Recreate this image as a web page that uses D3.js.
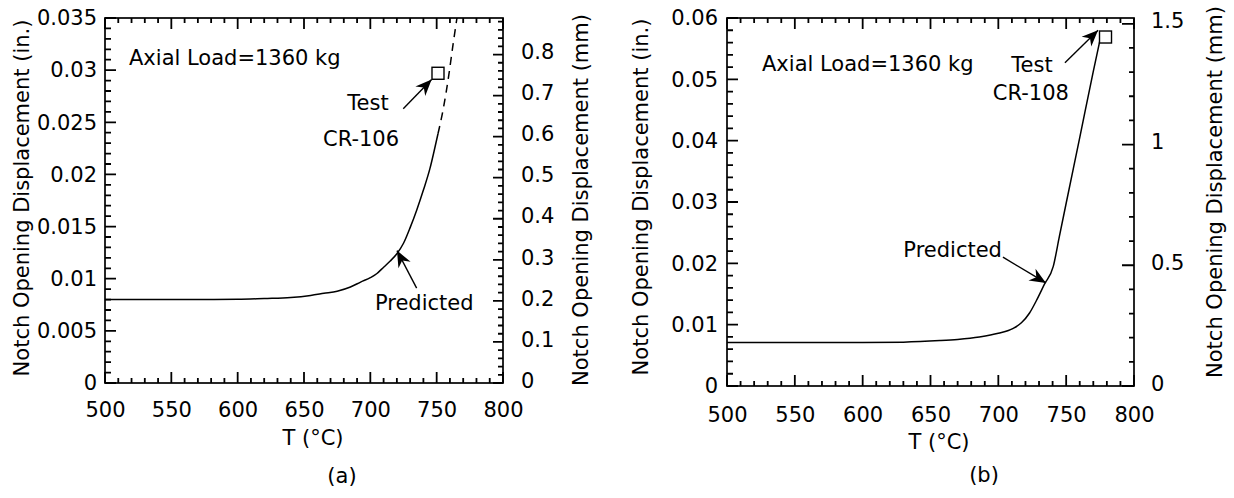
<!DOCTYPE html>
<html><head><meta charset="utf-8">
<script src="https://cdn.jsdelivr.net/npm/d3@7"></script>
<style>
body{margin:0;background:#fff}
text{font-family:"DejaVu Sans",sans-serif;fill:#000}
</style>
</head><body><svg id="c" width="1234" height="498"></svg>
<script>
// ---------- data ----------
const tempTicks = [500,550,600,650,700,750,800];
const inTicksA = [0,0.005,0.01,0.015,0.02,0.025,0.03,0.035];
const inLabelsA = ["0","0.005","0.01","0.015","0.02","0.025","0.03","0.035"];
const mmTicksA = [0,0.1,0.2,0.3,0.4,0.5,0.6,0.7,0.8];
const mmLabelsA = ["0","0.1","0.2","0.3","0.4","0.5","0.6","0.7","0.8"];
const inTicksB = [0,0.01,0.02,0.03,0.04,0.05,0.06];
const inLabelsB = ["0","0.01","0.02","0.03","0.04","0.05","0.06"];
const mmTicksB = [0,0.5,1,1.5];
const mmLabelsB = ["0","0.5","1","1.5"];

const predA_T  = [500,550,600,620,640,655,665,675,685,693,700,705,710,715,720,725,730,735,740,745,748,751];
const predA_in = [0.0080,0.0080,0.00802,0.0081,0.0082,0.0084,0.0086,0.0088,0.0092,0.0097,0.0101,0.0105,0.0111,0.0117,0.0124,0.0134,0.0149,0.0166,0.0185,0.0206,0.0222,0.0239];
const extA_T  = [751,755,759,762.5,765.3];
const extA_in = [0.0239,0.0263,0.0294,0.0326,0.0350];
const testA = {T:751, v:0.0297};

const predB_T  = [500,550,600,630,657,670,686,700,711,717,723,728,734,740.5,745,750,760,770,776];
const predB_in = [0.0071,0.0071,0.0071,0.00715,0.0074,0.0076,0.0080,0.0086,0.0094,0.0103,0.0119,0.0139,0.0166,0.0195,0.0244,0.0298,0.0405,0.0513,0.0575];
const testB = {T:779, v:0.0569};

const IN2MM = 25.4;

// ---------- drawing ----------
const svg = d3.select("#c");
const FS = 21;

svg.append("defs").append("marker")
  .attr("id","ah").attr("markerUnits","userSpaceOnUse")
  .attr("markerWidth",20).attr("markerHeight",20)
  .attr("viewBox","-14 -7 16 14").attr("refX",0).attr("refY",0)
  .attr("orient","auto")
  .append("path").attr("d","M0,0 L-13,-5.5 L-9,0 L-13,5.5 Z").attr("fill","#000");

function panel(cfg){
  const g = svg.append("g");
  const x = d3.scaleLinear().domain([500,800]).range([cfg.l,cfg.r]);
  const y = d3.scaleLinear().domain([0,cfg.ymax]).range([cfg.b,cfg.t]);
  const ymm = d3.scaleLinear().domain([0,cfg.ymax*IN2MM]).range([cfg.b,cfg.t]);
  const minorX = d3.range(500,801,10).filter(v=>v%50!==0);
  const fmt = (ticks,labels)=> (d)=>{const i=ticks.findIndex(t=>Math.abs(t-d)<1e-9);return i>=0?labels[i]:"";};

  function lab(axis, tr){
    const a = g.append("g").attr("transform",tr).call(axis);
    a.select(".domain").remove();
    a.selectAll(".tick line").remove();
    a.selectAll("text").style("font-size",FS+"px").style("font-family","DejaVu Sans").attr("fill","#000");
    return a;
  }
  lab(d3.axisBottom(x).tickValues(tempTicks).tickSize(0).tickPadding(cfg.xpad).tickFormat(d3.format("d")), `translate(0,${cfg.b})`);
  lab(d3.axisLeft(y).tickValues(cfg.inTicks).tickSize(0).tickPadding(cfg.ypad).tickFormat(fmt(cfg.inTicks,cfg.inLabels)), `translate(${cfg.l},0)`);
  const ra = lab(d3.axisRight(ymm).tickValues(cfg.mmTicks).tickSize(0).tickPadding(cfg.mmpad).tickFormat(fmt(cfg.mmTicks,cfg.mmLabels)), `translate(${cfg.r},0)`);
  ra.selectAll("text").attr("dy","0.2em");

  // inward tick marks, positions from the scales
  let d = "";
  const vt=(vals,len,yE,dir)=>vals.forEach(v=>{d+=`M${x(v).toFixed(2)},${yE}L${x(v).toFixed(2)},${yE+dir*len}`;});
  const ht=(sc,vals,len,xE,dir)=>vals.forEach(v=>{d+=`M${xE},${sc(v).toFixed(2)}L${xE+dir*len},${sc(v).toFixed(2)}`;});
  vt(tempTicks, 11, cfg.b, -1); vt(minorX, 5, cfg.b, -1);
  vt(tempTicks, 11, cfg.t, 1);  vt(minorX, 5, cfg.t, 1);
  ht(y, cfg.inTicks, 11, cfg.l, 1); ht(y, cfg.inMinor, 6, cfg.l, 1);
  ht(ymm, cfg.mmTicks, cfg.mmMajor, cfg.r, -1); ht(ymm, cfg.mmMinor, 5, cfg.r, -1);
  g.append("path").attr("d",d).attr("fill","none").attr("stroke","#000").attr("stroke-width",1.8);

  g.append("rect").attr("x",cfg.l).attr("y",cfg.t).attr("width",cfg.r-cfg.l).attr("height",cfg.b-cfg.t)
    .attr("fill","none").attr("stroke","#000").attr("stroke-width",1.7);

  const line = d3.line().x(d=>x(d[0])).y(d=>y(d[1])).curve(d3.curveMonotoneX);
  g.append("path").attr("d",line(cfg.predT.map((t,i)=>[t,cfg.predV[i]])))
    .attr("fill","none").attr("stroke","#000").attr("stroke-width",1.5);
  if(cfg.extT){
    g.append("path").attr("d",line(cfg.extT.map((t,i)=>[t,cfg.extV[i]])))
      .attr("fill","none").attr("stroke","#000").attr("stroke-width",1.5).attr("stroke-dasharray","8,6");
  }
  g.append("rect").attr("x",x(cfg.test.T)-6).attr("y",y(cfg.test.v)-6).attr("width",12).attr("height",12)
    .attr("fill","#fff").attr("stroke","#000").attr("stroke-width",1.4);

  const txt=(s,px,py,anchor)=>g.append("text").attr("x",px).attr("y",py).attr("text-anchor",anchor||"start")
    .style("font-size",FS+"px").text(s);
  txt("Axial Load=1360 kg", cfg.l+cfg.loadDx, cfg.t+cfg.loadDy);
  cfg.texts.forEach(t=>txt(t.s, x(t.T), y(t.v), t.a));
  cfg.arrows.forEach(a=>{
    g.append("line").attr("x1",x(a[0])).attr("y1",y(a[1])).attr("x2",x(a[2])).attr("y2",y(a[3]))
      .attr("stroke","#000").attr("stroke-width",1.4).attr("marker-end","url(#ah)");
  });
  txt("T (°C)", cfg.xtX, cfg.xtY, "middle");
  txt(cfg.cap, cfg.capX, cfg.capY, "middle");
  g.append("text").attr("transform",`translate(${cfg.ltX},${cfg.ltY}) rotate(-90)`).attr("text-anchor","middle")
    .style("font-size",FS+"px").text("Notch Opening Displacement (in.)");
  g.append("text").attr("transform",`translate(${cfg.rtX},${cfg.rtY}) rotate(-90)`).attr("text-anchor","middle")
    .style("font-size",FS+"px").text("Notch Opening Displacement (mm)");
}

panel({
  l:105, r:503, t:18, b:383, ymax:0.035,
  xpad:19, ypad:8, mmpad:18, mmMajor:10,
  inTicks:inTicksA, inLabels:inLabelsA, inMinor:d3.range(0,0.0351,0.001).filter(v=>Math.abs(v/0.005-Math.round(v/0.005))>1e-6),
  mmTicks:mmTicksA, mmLabels:mmLabelsA, mmMinor:d3.range(0,0.881,0.02).filter(v=>Math.abs(v/0.1-Math.round(v/0.1))>1e-6),
  predT:predA_T, predV:predA_in, extT:extA_T, extV:extA_in, test:testA,
  loadDx:24, loadDy:47,
  texts:[{s:"Test",T:698.2,v:0.0262,a:"middle"},{s:"CR-106",T:693,v:0.0227,a:"middle"},{s:"Predicted",T:703.5,v:0.0070,a:"start"}],
  arrows:[[724.8,0.0263,746.2,0.0291],[734.9,0.0091,720.1,0.0127]],
  xtX:313, xtY:445, cap:"(a)", capX:342, capY:483,
  ltX:29, ltY:198, rtX:588, rtY:200
});

panel({
  l:727, r:1134, t:18, b:386, ymax:0.06,
  xpad:21, ypad:9, mmpad:17, mmMajor:12,
  inTicks:inTicksB, inLabels:inLabelsB, inMinor:d3.range(0,0.0601,0.002).filter(v=>Math.abs(v/0.01-Math.round(v/0.01))>1e-6),
  mmTicks:mmTicksB, mmLabels:mmLabelsB, mmMinor:d3.range(0,1.51,0.1).filter(v=>Math.abs(v/0.5-Math.round(v/0.5))>1e-6),
  predT:predB_T, predV:predB_in, test:testB,
  loadDx:35, loadDy:53,
  texts:[{s:"Test",T:724.8,v:0.0512,a:"middle"},{s:"CR-108",T:724,v:0.0466,a:"middle"},{s:"Predicted",T:630,v:0.0210,a:"start"}],
  arrows:[[749.1,0.0527,773.5,0.0580],[703.4,0.0210,735.1,0.0168]],
  xtX:939, xtY:449, cap:"(b)", capX:984, capY:482,
  ltX:648, ltY:197, rtX:1222, rtY:192
});
</script></body></html>
